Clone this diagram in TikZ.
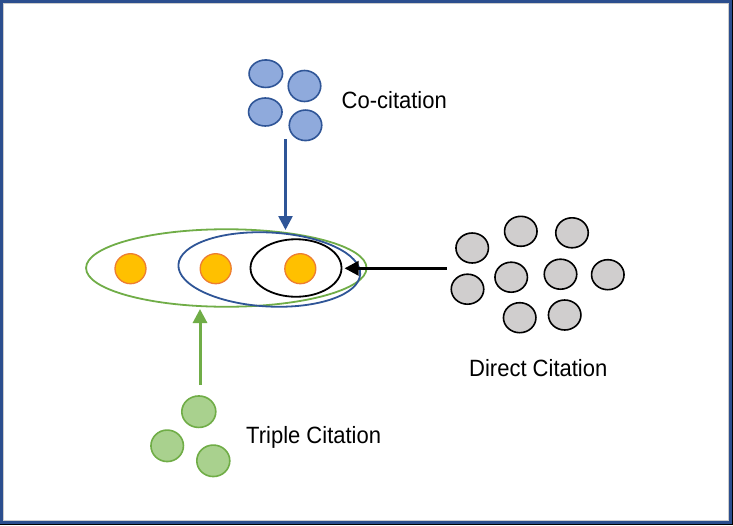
\documentclass[tikz,border=0pt]{standalone}
\usepackage{fontspec}
\setmainfont{Liberation Sans}
\usetikzlibrary{shapes.geometric,arrows.meta}
\definecolor{frameblue}{HTML}{2B4E8E}
\definecolor{cobluefill}{HTML}{8FAADC}
\definecolor{coblue}{HTML}{2F5597}
\definecolor{grfill}{HTML}{A9D18E}
\definecolor{grline}{HTML}{70AD47}
\definecolor{gyfill}{HTML}{D0CECE}
\definecolor{orfill}{HTML}{FFC000}
\definecolor{orline}{HTML}{ED7D31}
\tikzset{
  dot/.style={ellipse, inner sep=0pt, line width=1.6pt, minimum width=32.5pt, minimum height=30pt},
  codot/.style={dot, draw=coblue, fill=cobluefill},
  trdot/.style={dot, draw=grline, fill=grfill},
  dcdot/.style={dot, draw=black, fill=gyfill},
  ordot/.style={dot, draw=orline, fill=orfill, line width=1.3pt, minimum width=31pt, minimum height=30pt},
  ring/.style={ellipse, inner sep=0pt, line width=1.8pt},
  lbl/.style={font=\fontsize{22}{26}\selectfont, inner sep=0pt},
  tipa/.style={-{Triangle[length=14pt,width=14pt]}}
}
\begin{document}
\begin{tikzpicture}[x=1pt,y=-1pt]
\useasboundingbox (0,0) rectangle (733,525);
\fill[black] (0,0) rectangle (733,525);
\fill[white] (0,0) rectangle (731.5,523.5);
\draw[frameblue, line width=3pt] (1.5,1.5) rectangle (730,522);
\draw[gray!40, line width=0.5pt] (3.5,3.5) rectangle (728,520);
% rings
\node[ring, draw=grline, minimum width=280.5pt, minimum height=77.5pt] (green) at (226.3,268) {};
\node[ring, draw=coblue, minimum width=182pt, minimum height=74pt, rotate=-3] (blue) at (269.3,269.5) {};
\node[ring, draw=black, minimum width=91pt, minimum height=57.5pt] (blk) at (296,268) {};
% orange papers
\node[ordot] (o1) at (130.5,268.7) {};
\node[ordot] (o2) at (215.7,268.7) {};
\node[ordot] (o3) at (300.3,268.7) {};
% co-citation
\node[codot, minimum width=33.5pt, minimum height=27.5pt] (c1) at (265.8,73.7) {};
\node[codot, minimum width=32.5pt, minimum height=31pt] (c2) at (304.5,86) {};
\node[codot, minimum width=33.5pt, minimum height=28pt] (c3) at (265.3,112) {};
\node[codot, minimum width=32.5pt, minimum height=30.5pt] (c4) at (305.5,125.3) {};
\node[lbl, anchor=base west] (colbl) at (341.5,108) {\scalebox{1}[1.07]{Co-citation}};
% direct citation
\node[dcdot] (d1) at (472.2,248) {};
\node[dcdot] (d2) at (520.8,231.3) {};
\node[dcdot] (d3) at (572,232.8) {};
\node[dcdot] (d4) at (467.5,289.2) {};
\node[dcdot] (d5) at (511.2,277.2) {};
\node[dcdot] (d6) at (560.5,274.2) {};
\node[dcdot] (d7) at (607.8,274.7) {};
\node[dcdot] (d8) at (519.7,317.7) {};
\node[dcdot] (d9) at (564.7,315) {};
\node[lbl, anchor=base west] (dclbl) at (469,376) {\scalebox{1}[1.07]{Direct Citation}};
% triple citation
\node[trdot, minimum width=34pt, minimum height=31.5pt] (t1) at (198.8,411.7) {};
\node[trdot, minimum width=32.5pt, minimum height=31.5pt] (t2) at (167.2,445.8) {};
\node[trdot, minimum width=33pt, minimum height=31.5pt] (t3) at (213.3,460.8) {};
\node[lbl, anchor=base west] (trlbl) at (246,443) {\scalebox{1}[1.07]{Triple Citation}};
% arrows
\coordinate (cofrom) at (285.5,139);
\coordinate (coto) at (285.5,230);
\coordinate (dcfrom) at (446.5,268.3);
\coordinate (dcto) at (344.5,268.3);
\coordinate (trfrom) at (200,385);
\coordinate (trto) at (200,309);
\draw[tipa, coblue, line width=2.6pt] (cofrom) -- (coto);
\draw[tipa, black, line width=3pt] (dcfrom) -- (dcto);
\draw[tipa, grline, line width=3pt] (trfrom) -- (trto);
\end{tikzpicture}
\end{document}
